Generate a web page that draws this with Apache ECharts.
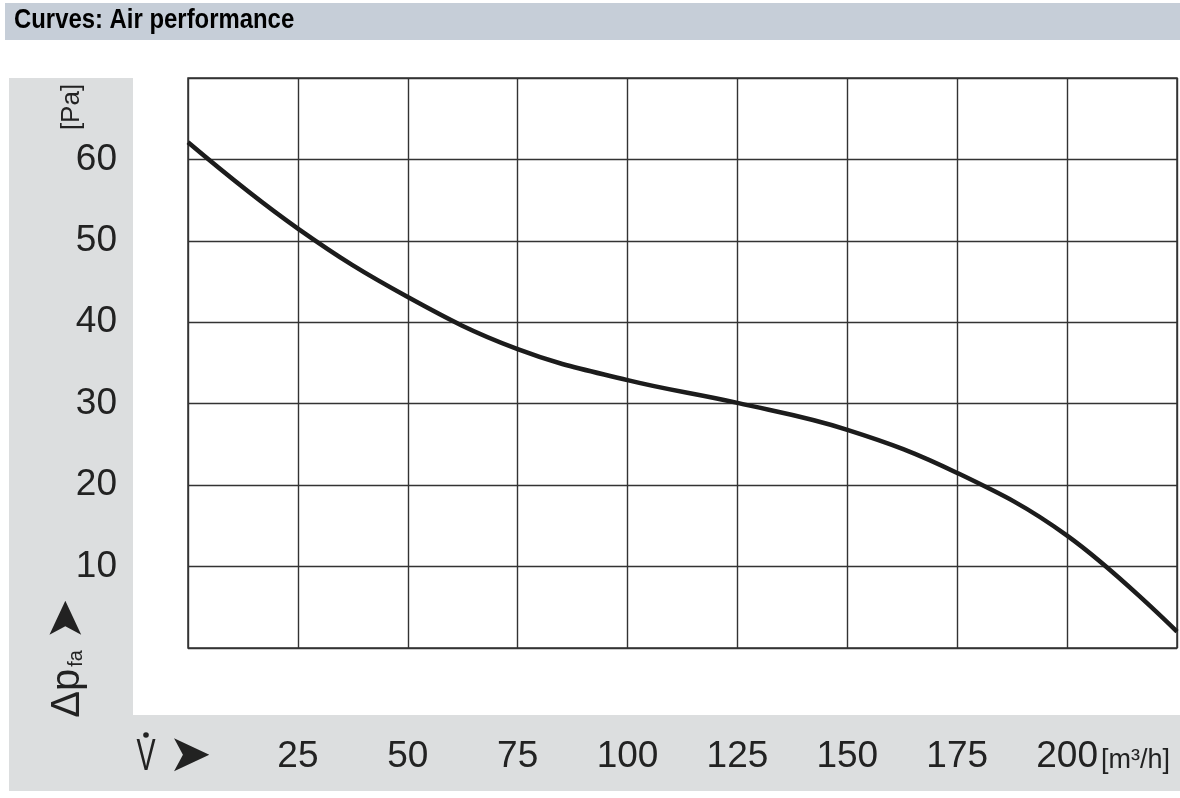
<!DOCTYPE html>
<html>
<head>
<meta charset="utf-8">
<title>Curves: Air performance</title>
<script src="https://cdn.jsdelivr.net/npm/echarts@6/dist/echarts.min.js"></script>
<style>
    html, body { margin: 0; padding: 0; background: #fff; }
    #airChart { width: 1180px; height: 798px; }
</style>
</head>
<body>
<div id="airChart"></div>
<script>
// volume flow [m3/h] and static pressure [Pa]
var flowRate = [0, 25, 50, 75, 100, 125, 150, 175, 200, 225];
var pressure = [62.1, 51.5, 43.1, 36.7, 32.9, 30.1, 26.8, 21.5, 13.8, 2.0];
var xTickLabels = [25, 50, 75, 100, 125, 150, 175, 200];
var yTickLabels = [10, 20, 30, 40, 50, 60];

var numFont = "'Liberation Sans', Arial, sans-serif";
var panelGray = '#dcdedf';
var inkColor = '#222';

var chartDom = document.getElementById('airChart');
var myChart = echarts.init(chartDom, null, { renderer: 'canvas' });
var option;

var curveData = flowRate.map(function (v, i) { return [v, pressure[i]]; });

option = {
    animation: false,
    backgroundColor: '#fff',
    graphic: [
        // header bar
        { type: 'rect', z: -10, shape: { x: 5, y: 3, width: 1175, height: 37 }, style: { fill: '#c6ced8' } },
        { type: 'text', x: 14, y: 21, scaleX: 0.885,
          style: { text: 'Curves: Air performance', font: 'bold 27px ' + numFont, fill: '#000', align: 'left', verticalAlign: 'middle' } },
        // gray panels left and bottom
        { type: 'rect', z: -10, shape: { x: 9, y: 78, width: 124, height: 713 }, style: { fill: panelGray } },
        { type: 'rect', z: -10, shape: { x: 133, y: 715, width: 1047, height: 76 }, style: { fill: panelGray } },
        // y unit
        { type: 'text', x: 72, y: 107, rotation: Math.PI / 2,
          style: { text: '[Pa]', font: '26px ' + numFont, fill: inkColor, align: 'center', verticalAlign: 'middle' } },
        // y name: delta p fa with arrow
        { type: 'text', x: 68, y: 658, rotation: Math.PI / 2,
          style: {
              text: '{d|Δp}{s|fa}{a|➤}',
              align: 'center', verticalAlign: 'middle', fill: inkColor,
              rich: {
                  d: { font: '40px ' + numFont, fill: inkColor },
                  s: { font: '20px ' + numFont, fill: inkColor, padding: [16, 0, 0, 2] },
                  a: { font: '50px DejaVu Sans', fill: inkColor, padding: [0, 0, 0, 10] }
              }
          } },
        // x name: V dot with arrow
        { type: 'text', x: 146, y: 758, scaleX: 0.65,
          style: { text: 'V', font: '44px ' + numFont, fill: inkColor, align: 'center', verticalAlign: 'middle' } },
        { type: 'circle', shape: { cx: 146, cy: 735, r: 2.8 }, style: { fill: inkColor } },
        { type: 'text', x: 190, y: 757,
          style: { text: '➤', font: '52px DejaVu Sans', fill: inkColor, align: 'center', verticalAlign: 'middle' } },
        // x unit
        { type: 'text', x: 1101, y: 761,
          style: { text: '[m³/h]', font: '27px ' + numFont, fill: inkColor, align: 'left', verticalAlign: 'middle' } }
    ],
    grid: {
        left: 188,
        top: 78,
        right: 3,
        bottom: 150,
        show: true,
        backgroundColor: '#fff',
        borderColor: '#333',
        borderWidth: 1.5
    },
    xAxis: {
        type: 'value',
        min: 0,
        max: 225,
        interval: 25,
        axisLine: { show: false },
        axisTick: { show: false },
        splitLine: { show: true, lineStyle: { color: '#333', width: 1.4 } },
        axisLabel: {
            margin: 109,
            verticalAlign: 'middle',
            fontSize: 37,
            fontFamily: numFont,
            color: inkColor,
            formatter: function (v) { return xTickLabels.indexOf(v) >= 0 ? String(v) : ''; }
        }
    },
    yAxis: {
        type: 'value',
        min: 0,
        max: 70,
        interval: 10,
        axisLine: { show: false },
        axisTick: { show: false },
        splitLine: { show: true, lineStyle: { color: '#333', width: 1.4 } },
        axisLabel: {
            margin: 71,
            fontSize: 37,
            fontFamily: numFont,
            color: inkColor,
            formatter: function (v) { return yTickLabels.indexOf(v) >= 0 ? String(v) : ''; }
        }
    },
    series: [
        {
            name: 'Air performance',
            type: 'line',
            data: curveData,
            smooth: 0.4,
            showSymbol: false,
            clip: true,
            lineStyle: { color: '#1c1c1c', width: 4.5 }
        }
    ]
};

option && myChart.setOption(option);
</script>
</body>
</html>
